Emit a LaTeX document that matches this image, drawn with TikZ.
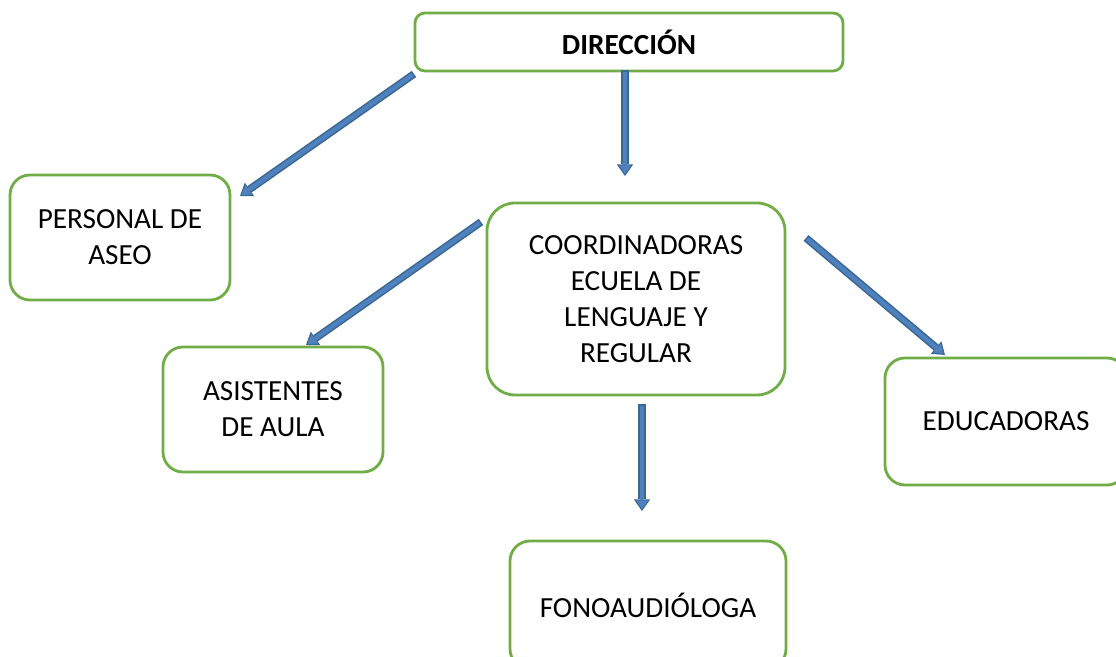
\documentclass[tikz,border=0pt]{standalone}
\usepackage{fontspec}
\setmainfont{Carlito}
\usetikzlibrary{arrows.meta}
\definecolor{verde}{HTML}{70AD47}
\definecolor{azul}{HTML}{4F81BD}
\definecolor{azulborde}{HTML}{3A6896}
\tikzset{
  caja/.style={draw=verde, line width=1.4pt, rounded corners=10pt, align=center,
    font=\fontsize{14.6}{18}\selectfont},
  flechafondo/.style={draw=azulborde, line width=3.8pt,
    -{Triangle[length=5.8pt,width=8.2pt,line width=0pt]}},
  flecha/.style={draw=azul, line width=2.2pt, shorten <=0.8pt, shorten >=1pt,
    -{Triangle[length=4.3pt,width=5.8pt,line width=0pt]}}
}
\begin{document}
\begin{tikzpicture}[x=0.5pt, y=-0.5pt]
\useasboundingbox (0,0) rectangle (1116,657);
\node (dir)[caja, rounded corners=5pt, minimum width=214pt, minimum height=29pt] at (629,42) {\textbf{DIRECCIÓN}};
\node (per)[caja, minimum width=110pt, minimum height=62.5pt] at (120,237.5) {PERSONAL DE\\ASEO};
\node (coo)[caja, rounded corners=14pt, minimum width=149pt, minimum height=96pt] at (636,299) {COORDINADORAS\\ECUELA DE\\LENGUAJE Y\\REGULAR};
\node (asi)[caja, minimum width=110pt, minimum height=62.5pt] at (273,409.5) {ASISTENTES\\DE AULA};
\node (edu)[caja, minimum width=121pt, minimum height=63.5pt] at (1006,421.5) {EDUCADORAS};
\node (fon)[caja, minimum width=138pt, minimum height=64pt] at (648,605) {FONOAUDIÓLOGA};
% extremos de las flechas
\coordinate (dir-per) at (414,74);   \coordinate (per-in) at (240,196);
\coordinate (dir-coo) at (625,70);   \coordinate (coo-in) at (625,176);
\coordinate (coo-asi) at (481,222);  \coordinate (asi-in) at (306,345);
\coordinate (coo-edu) at (806,238);  \coordinate (edu-in) at (945,355);
\coordinate (coo-fon) at (642,404);  \coordinate (fon-in) at (642,511);
\foreach \a/\b in {dir-per/per-in, dir-coo/coo-in, coo-asi/asi-in, coo-edu/edu-in, coo-fon/fon-in}{
  \draw[flechafondo] (\a) -- (\b);
  \draw[flecha] (\a) -- (\b);
}
\end{tikzpicture}
\end{document}
